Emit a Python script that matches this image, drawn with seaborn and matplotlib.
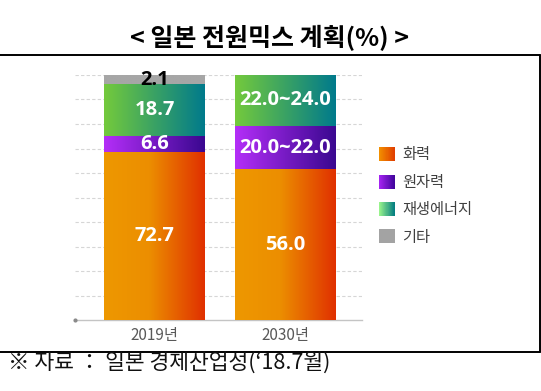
import numpy as np
import pandas as pd
import matplotlib
matplotlib.use("Agg")
import matplotlib.pyplot as plt
import seaborn as sns
from matplotlib.colors import LinearSegmentedColormap
from matplotlib.legend_handler import HandlerBase
from matplotlib.patches import Rectangle
from matplotlib.lines import Line2D

# ---------------- data ----------------
years = ["2019년", "2030년"]
sources = ["화력", "원자력", "재생에너지", "기타"]
# drawn segment heights (%)
thermal = [68.7, 61.5]
nuclear = [6.5, 17.8]
renewable = [21.1, 20.7]
other = [3.7, 0.0]
# printed labels
thermal_lbl = ["72.7", "56.0"]
nuclear_lbl = ["6.6", "20.0~22.0"]
renewable_lbl = ["18.7", "22.0~24.0"]
other_lbl = ["2.1", ""]
yticks = list(range(10, 101, 10))
title = "< 일본 전원믹스 계획(%) >"
source_note = "※ 자료 ： 일본 경제산업성(‘18.7월)"

# gradient colour stops (left -> right)
bar_grads = [
    [(0.0, "#EE9800"), (0.45, "#EC8E00"), (1.0, "#E03000")],
    [(0.0, "#B42EF8"), (1.0, "#3A0890")],
    [(0.0, "#74CA3C"), (1.0, "#007A8C")],
    [(0.0, "#A6A6A6"), (1.0, "#A6A6A6")],
]
legend_grads = [
    [(0.0, "#F29000"), (1.0, "#E03C00")],
    [(0.0, "#A624F2"), (1.0, "#3E049A")],
    [(0.0, "#9AF58C"), (1.0, "#007A80")],
    [(0.0, "#A3A3A3"), (1.0, "#A3A3A3")],
]

sns.set_theme(style="white")
plt.rcParams['font.family'] = ['Noto Sans CJK KR', 'DejaVu Sans']

W, H = 541, 391
fig = plt.figure(figsize=(W / 100, H / 100), dpi=100)
ax = fig.add_axes([75 / W, 71 / H, 287 / W, 245 / H])

series = [thermal, nuclear, renewable, other]
labels = [thermal_lbl, nuclear_lbl, renewable_lbl, other_lbl]
cum = np.cumsum(np.array(series), axis=0)

# overlay cumulative bars, top level first
order = [3, 2, 1, 0]
for k in order:
    df = pd.DataFrame({"year": years, "value": cum[k]})
    sns.barplot(data=df, x="year", y="value", color=bar_grads[k][0][1],
                width=0.77, ax=ax, saturation=1, linewidth=0)

ax.set_xlim(-0.607, 1.584)
ax.set_ylim(0, 100)

# replace flat fills by horizontal gradients clipped to each bar
patches = list(ax.patches)
for i, k in enumerate(order):
    cmap = LinearSegmentedColormap.from_list(f"g{k}", bar_grads[k])
    for j in range(len(years)):
        p = patches[i * len(years) + j]
        x0 = p.get_x(); x1 = x0 + p.get_width()
        y0 = p.get_y(); y1 = y0 + p.get_height()
        z = 2 + i
        p.set_zorder(z)
        if y1 - y0 <= 0:
            continue
        grad = np.linspace(0, 1, 256).reshape(1, -1)
        im = ax.imshow(grad, cmap=cmap, extent=[x0, x1, y0, y1], aspect="auto",
                       zorder=z + 0.5, interpolation="bilinear")
        im.set_clip_path(p)
ax.set_xlim(-0.607, 1.584)
ax.set_ylim(0, 100)

# value labels
centers = [patches[j].get_x() + patches[j].get_width() / 2 for j in range(len(years))]
for k in range(4):
    for j in range(len(years)):
        txt = labels[k][j]
        if not txt:
            continue
        bottom = cum[k][j] - series[k][j]
        yc = bottom + series[k][j] / 2
        col = "black" if k == 3 else "white"
        ax.text(centers[j], yc, txt, ha="center", va="center", color=col,
                fontsize=14.5, fontweight="bold", zorder=10,
                family=['Open Sans', 'Noto Sans CJK KR', 'DejaVu Sans'])

# grid / axes styling
ax.set_yticks(yticks)
ax.yaxis.grid(True, linestyle=(0, (3, 2)), color="#D6D6D6", linewidth=0.8)
ax.set_axisbelow(True)
ax.tick_params(axis="y", left=False, labelleft=False)
ax.tick_params(axis="x", length=0, pad=5, labelsize=11, labelcolor="#595959")
ax.set_xlabel("")
ax.set_ylabel("")
for s in ["top", "right", "left"]:
    ax.spines[s].set_visible(False)
ax.spines["bottom"].set_color("#C4C4C4")
ax.spines["bottom"].set_linewidth(1.0)
ax.plot([ax.get_xlim()[0]], [0], marker="o", ms=2, color="#8A8A8A", clip_on=False, zorder=5)


# legend with gradient swatches
class GradHandler(HandlerBase):
    def __init__(self, stops, n=30):
        super().__init__()
        self.stops = stops
        self.n = n

    def create_artists(self, legend, orig_handle, xdescent, ydescent, width,
                       height, fontsize, trans):
        cmap = LinearSegmentedColormap.from_list("lg", self.stops)
        arts = []
        for i in range(self.n):
            r = Rectangle((-xdescent + width * i / self.n, -ydescent),
                          width / self.n * 1.08, height,
                          facecolor=cmap((i + 0.5) / self.n), edgecolor="none",
                          transform=trans)
            arts.append(r)
        return arts


handles = [Rectangle((0, 0), 1, 1) for _ in sources]
hmap = {h: GradHandler(legend_grads[i]) for i, h in enumerate(handles)}
ax.legend(handles, sources, handler_map=hmap, loc="center left",
          bbox_to_anchor=(379 / W, 1 - 196 / H), bbox_transform=fig.transFigure,
          frameon=False, fontsize=11, handlelength=1.05, handleheight=1.05,
          handletextpad=0.45, labelspacing=0.68, borderpad=0, borderaxespad=0,
          labelcolor="#404040")

# title, frame lines, source note
fig.text(269 / W, 1 - 38 / H, title, ha="center", va="center", fontsize=18,
         fontweight="black", color="black")
lw = 1.4
fig.add_artist(Line2D([0, 540 / W], [1 - 55 / H] * 2, transform=fig.transFigure, color="black", lw=lw))
fig.add_artist(Line2D([540 / W] * 2, [1 - 55 / H, 1 - 352 / H], transform=fig.transFigure, color="black", lw=lw))
fig.add_artist(Line2D([0, 540 / W], [1 - 352 / H] * 2, transform=fig.transFigure, color="black", lw=lw))
fig.text(8 / W, 1 - 363 / H, source_note, ha="left", va="center", fontsize=15.5,
         color="#111111")

fig.savefig("out.png", dpi=100)
